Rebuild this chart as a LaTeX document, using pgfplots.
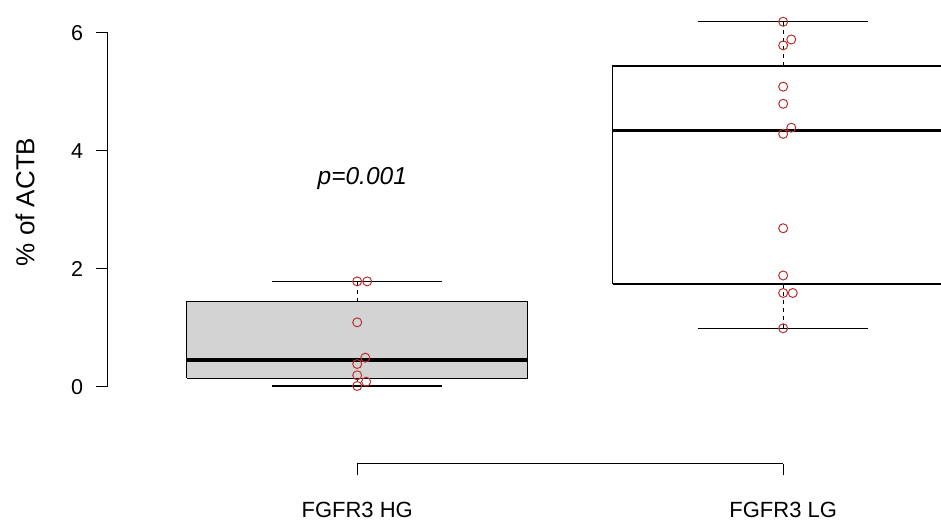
\documentclass[border=0pt]{standalone}
\usepackage{fontspec}
\setmainfont{Liberation Sans}
\usepackage{pgfplots}
\pgfplotsset{compat=1.18}
\definecolor{boxgray}{RGB}{211,211,211}
\definecolor{ptred}{RGB}{190,48,48}
\begin{document}
\begin{tikzpicture}
\begin{axis}[
  scale only axis,
  width=833pt, height=464pt,
  xmin=0.415, xmax=2.3705,
  ymin=-1.305, ymax=6.559,
  axis lines*=left,
  axis line style={draw=none},
  tick align=outside,
  major tick length=11.5pt,
  tick style={black, line width=1pt},
  xtick={1,2},
  xticklabels={FGFR3 HG, FGFR3 LG},
  ytick={0,2,4,6},
  yticklabels={0,2,4,6},
  /pgf/number format/assume math mode=true,
  yticklabel style={font=\fontsize{21.5}{24}\selectfont, anchor=east, xshift=-10pt},
  xticklabel style={font=\fontsize{22}{26}\selectfont, anchor=north, yshift=-23pt},
  clip=true,
  clip mode=individual,
]
\coordinate (SW) at (rel axis cs:0,0);
\coordinate (NE) at (rel axis cs:1,1);
% boxes
\addplot[fill=boxgray, draw=black, line width=1.2pt] coordinates {(0.6,0.147) (1.4,0.147) (1.4,1.446) (0.6,1.446) (0.6,0.147)};
\addplot[fill=white, draw=black, line width=1.2pt] coordinates {(1.6,1.746) (2.4,1.746) (2.4,5.44) (1.6,5.44) (1.6,1.746)};
% whiskers (dashed)
\addplot[black, line width=1pt, dash pattern=on 4pt off 4pt] coordinates {(1,1.446) (1,1.79)};
\addplot[black, line width=1pt, dash pattern=on 4pt off 4pt] coordinates {(1,0.147) (1,0.017)};
\addplot[black, line width=1pt, dash pattern=on 4pt off 4pt] coordinates {(2,5.44) (2,6.19)};
\addplot[black, line width=1pt, dash pattern=on 4pt off 4pt] coordinates {(2,1.746) (2,0.995)};
% caps
\addplot[black, line width=1.2pt] coordinates {(0.8,1.79) (1.2,1.79)};
\addplot[black, line width=1.2pt] coordinates {(0.8,0.017) (1.2,0.017)};
\addplot[black, line width=1.2pt] coordinates {(1.8,6.19) (2.2,6.19)};
\addplot[black, line width=1.2pt] coordinates {(1.8,0.995) (2.2,0.995)};
% medians
\addplot[black, line width=3.6pt] coordinates {(0.6,0.458) (1.4,0.458)};
\addplot[black, line width=3.6pt] coordinates {(1.6,4.344) (2.4,4.344)};
% points
\addplot[only marks, mark=o, mark size=4.5pt, ptred, mark options={line width=1pt}] coordinates {
 (1.0,1.79) (1.0235,1.79) (1.0,1.096) (1.019,0.497) (1.0,0.39) (1.0,0.198) (1.021,0.09) (1.0,0.017)
};
\addplot[only marks, mark=o, mark size=4.5pt, ptred, mark options={line width=1pt}] coordinates {
 (2.0,6.19) (2.019,5.89) (2.0,5.79) (2.0,5.09) (2.0,4.80) (2.019,4.395) (2.0,4.29) (2.0,2.69) (2.0,1.89) (2.0,1.593) (2.0225,1.593) (2.0,0.995)
};
% axis lines
\draw[black, line width=1pt] (axis cs:0.415,0) -- (axis cs:0.415,6);
\draw[black, line width=1pt] (axis cs:1,-1.305) -- (axis cs:2,-1.305);
% labels
\node[rotate=90, font=\fontsize{26}{30}\selectfont] at ([xshift=-83pt]axis cs:0.415,3.136) {\% of ACTB};
\node[font=\fontsize{24.5}{28}\selectfont\itshape] at (axis cs:1.012,3.53) {p=0.001};
\end{axis}
\pgfresetboundingbox
\path[use as bounding box] ([xshift=-108pt,yshift=-59pt]SW) rectangle (NE);
\end{tikzpicture}
\end{document}
